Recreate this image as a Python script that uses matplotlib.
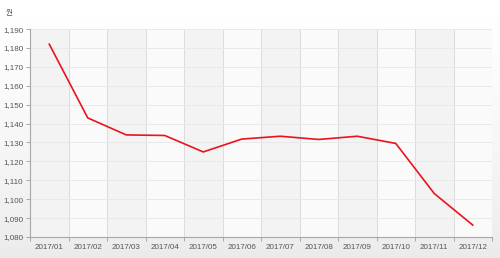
import matplotlib.pyplot as plt
import numpy as np

months = ['2017/01', '2017/02', '2017/03', '2017/04', '2017/05', '2017/06',
          '2017/07', '2017/08', '2017/09', '2017/10', '2017/11', '2017/12']
price = [1182, 1143, 1134, 1133.7, 1125, 1131.8,
         1133.3, 1131.6, 1133.3, 1129.5, 1103, 1086.3]
yticks = list(range(1080, 1191, 10))

fig = plt.figure(figsize=(5, 2.58), dpi=100)

# 배경 그라데이션 (위: 흰색, 아래: 연회색)
bg = fig.add_axes([0, 0, 1, 1], zorder=-10)
grad = np.linspace(0.0, 1.0, 256).reshape(-1, 1) ** 1.3
bg.imshow(grad, aspect='auto', cmap='Greys', vmin=0, vmax=6.5,
          extent=[0, 1, 0, 1])
bg.set_axis_off()

ax = fig.add_axes([0.06, 0.0814, 0.924, 0.806])
ax.set_facecolor('#fafafa')
n = len(months)
x = np.arange(n)
for i in range(n):
    if i % 2 == 0:
        ax.axvspan(i - 0.5, i + 0.5, color='#f3f3f3', lw=0, zorder=0)
for i in range(1, n + 1):
    ax.axvline(i - 0.5, color='#dcdcdc', lw=0.7, zorder=1)
for v in yticks:
    ax.axhline(v, color='#e9e9e9', lw=0.7, zorder=1)

ax.plot(x, price, color='#e8141e', lw=1.2, zorder=3)

ax.set_xlim(-0.5, n - 0.5)
ax.set_ylim(1080, 1190)
ax.set_yticks(yticks)
ax.set_yticklabels(['{:,}'.format(v) for v in yticks])
ax.set_xticks(x)
ax.set_xticklabels(months)
ax.set_xticks(np.arange(n + 1) - 0.5, minor=True)

for s in ['top', 'right']:
    ax.spines[s].set_visible(False)
for s in ['left', 'bottom']:
    ax.spines[s].set_color('#a8a8a8')
    ax.spines[s].set_linewidth(0.8)

ax.tick_params(axis='y', length=3, width=0.7, color='#a8a8a8', pad=2,
               labelsize=5.8, labelcolor='#555555')
ax.tick_params(axis='x', which='major', length=0, pad=5,
               labelsize=5.8, labelcolor='#555555')
ax.tick_params(axis='x', which='minor', length=3, width=0.7, color='#a8a8a8')
for lab in ax.get_xticklabels() + ax.get_yticklabels():
    lab.set_family('Liberation Sans')

fig.text(0.012, 0.965, '원', fontsize=5.5, color='#555555', va='top',
         family=['Noto Sans CJK KR', 'DejaVu Sans'])

fig.savefig('out.png', dpi=100)
